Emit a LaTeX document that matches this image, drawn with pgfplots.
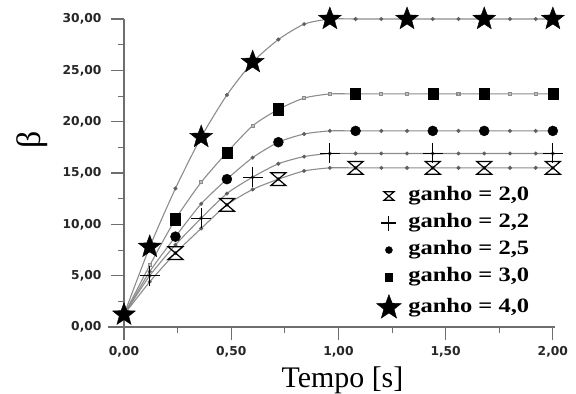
\documentclass[border=0pt]{standalone}
\usepackage{pgfplots}
\pgfplotsset{compat=1.18}
\usepackage{fontspec}
\setmainfont{Liberation Serif}
\newfontfamily\tickfont{DejaVu Sans}
\newfontfamily\legfont[FakeStretch=1.2]{Liberation Serif}
\definecolor{axcol}{RGB}{110,110,110}
\definecolor{lncol}{RGB}{140,140,140}
\definecolor{dotcol}{RGB}{95,95,95}

\pgfdeclareplotmark{hourglass}{%
 \pgfpathmoveto{\pgfqpoint{-\pgfplotmarksize}{0.85\pgfplotmarksize}}%
 \pgfpathlineto{\pgfqpoint{\pgfplotmarksize}{0.85\pgfplotmarksize}}%
 \pgfpathlineto{\pgfqpoint{-\pgfplotmarksize}{-0.85\pgfplotmarksize}}%
 \pgfpathlineto{\pgfqpoint{\pgfplotmarksize}{-0.85\pgfplotmarksize}}%
 \pgfpathclose
 \pgfusepathqstroke}
\pgfdeclareplotmark{fstar}{%
 \pgfpathmoveto{\pgfqpointpolar{90}{\pgfplotmarksize}}%
 \pgfpathlineto{\pgfqpointpolar{126}{0.42\pgfplotmarksize}}%
 \pgfpathlineto{\pgfqpointpolar{162}{\pgfplotmarksize}}%
 \pgfpathlineto{\pgfqpointpolar{198}{0.42\pgfplotmarksize}}%
 \pgfpathlineto{\pgfqpointpolar{234}{\pgfplotmarksize}}%
 \pgfpathlineto{\pgfqpointpolar{270}{0.42\pgfplotmarksize}}%
 \pgfpathlineto{\pgfqpointpolar{306}{\pgfplotmarksize}}%
 \pgfpathlineto{\pgfqpointpolar{342}{0.42\pgfplotmarksize}}%
 \pgfpathlineto{\pgfqpointpolar{18}{\pgfplotmarksize}}%
 \pgfpathlineto{\pgfqpointpolar{54}{0.42\pgfplotmarksize}}%
 \pgfpathclose
 \pgfusepathqfillstroke}

\pgfplotsset{lgmark/.style={legend image code/.code={\draw[mark repeat=2,mark phase=2,##1,mark size=#1] plot coordinates {(0cm,0cm)(0.3cm,0cm)(0.6cm,0cm)};}}}

% curves (t, beta)
\pgfplotstableread{
t b
0.00 1.2
0.12 4.4
0.24 7.2
0.36 9.6
0.48 11.9
0.60 13.4
0.72 14.4
0.84 15.2
0.96 15.5
1.08 15.5
1.20 15.5
1.32 15.5
1.44 15.5
1.56 15.5
1.68 15.5
1.80 15.5
1.92 15.5
2.00 15.5
}\gA
\pgfplotstableread{
t b
0.00 1.2
0.12 5.0
0.24 8.0
0.36 10.6
0.48 13.0
0.60 14.6
0.72 15.9
0.84 16.6
0.96 16.9
1.08 16.9
1.20 16.9
1.32 16.9
1.44 16.9
1.56 16.9
1.68 16.9
1.80 16.9
1.92 16.9
2.00 16.9
}\gB
\pgfplotstableread{
t b
0.00 1.2
0.12 5.4
0.24 8.8
0.36 12.0
0.48 14.4
0.60 16.5
0.72 18.0
0.84 18.8
0.96 19.1
1.08 19.1
1.20 19.1
1.32 19.1
1.44 19.1
1.56 19.1
1.68 19.1
1.80 19.1
1.92 19.1
2.00 19.1
}\gC
\pgfplotstableread{
t b
0.00 1.2
0.12 6.0
0.24 10.5
0.36 14.1
0.48 17.0
0.60 19.6
0.72 21.2
0.84 22.3
0.96 22.7
1.08 22.7
1.20 22.7
1.32 22.7
1.44 22.7
1.56 22.7
1.68 22.7
1.80 22.7
1.92 22.7
2.00 22.7
}\gD
\pgfplotstableread{
t b
0.00 1.2
0.12 7.8
0.24 13.5
0.36 18.5
0.48 22.6
0.60 25.8
0.72 28.0
0.84 29.5
0.96 30.0
1.08 30.0
1.20 30.0
1.32 30.0
1.44 30.0
1.56 30.0
1.68 30.0
1.80 30.0
1.92 30.0
2.00 30.0
}\gE

\begin{document}
\begin{tikzpicture}
\useasboundingbox (-124bp,-67bp) rectangle (452bp,327bp);
\begin{axis}[
  at={(0,0)}, anchor=south west,
  scale only axis, width=431bp, height=308bp,
  xmin=0, xmax=2.01, ymin=0, ymax=30,
  axis lines=left,
  axis line style={-, axcol, line width=1.3bp},
  clip=false,
  xtick={0,0.5,1,1.5,2}, ytick={0,5,10,15,20,25,30},
  minor x tick num=1, minor y tick num=1,
  tick align=outside,
  major tick length=13bp, minor tick length=6bp,
  tick style={axcol, line width=1.1bp},
  every minor tick/.style={axcol, line width=1.0bp},
  /pgf/number format/.cd, fixed, fixed zerofill, precision=2, use comma, assume math mode=true,
  /pgfplots/.cd,
  tick label style={font=\tickfont\bfseries\fontsize{12.3}{13}\selectfont, text=black!85},
  xticklabel style={yshift=-3bp},
  yticklabel style={xshift=-6bp},
  xlabel={Tempo [s]},
  xlabel style={at={(rel axis cs:0.5,0)}, anchor=base, yshift=-60bp, xshift=3bp, font=\fontsize{30}{32}\selectfont},
  ylabel={β},
  ylabel style={at={(rel axis cs:0,0.607)}, anchor=center, yshift=92bp, font=\fontsize{34}{36}\selectfont},
  legend cell align=left,
  legend style={at={(axis cs:1.177,13.7)}, anchor=north west, draw=none, fill=none,
    font=\legfont\bfseries\fontsize{20.5}{22}\selectfont, row sep=8bp, inner sep=0pt,
    nodes={inner sep=0pt, text height=14bp, text depth=5bp},
    /tikz/every odd column/.append style={column sep=7bp}},
]
\draw[axcol, line width=1.3bp] (axis cs:-0.075,0) -- (axis cs:0,0);
% curves with small dots
\addplot[forget plot, lncol, line width=1.1bp, smooth, tension=0.4, mark=*, mark size=1.4bp, mark options={dotcol, fill=dotcol}] table[x=t,y=b] {\gA};
\addplot[forget plot, lncol, line width=1.1bp, smooth, tension=0.4, mark=*, mark size=1.4bp, mark options={dotcol, fill=dotcol}] table[x=t,y=b] {\gB};
\addplot[forget plot, lncol, line width=1.1bp, smooth, tension=0.4, mark=*, mark size=1.4bp, mark options={dotcol, fill=dotcol}] table[x=t,y=b] {\gC};
\addplot[forget plot, lncol, line width=1.1bp, smooth, tension=0.4, mark=square*, mark size=1.5bp, mark options={black!45, fill=black!25}] table[x=t,y=b] {\gD};
\addplot[forget plot, lncol, line width=1.1bp, smooth, tension=0.4, mark=*, mark size=1.4bp, mark options={dotcol, fill=dotcol}] table[x=t,y=b] {\gE};
% big markers
\addplot[only marks, mark=hourglass, mark size=7.5bp, mark options={black, line width=1.2bp, fill=none}, lgmark=5bp]
  coordinates {(0.24,7.2)(0.48,11.9)(0.72,14.4)(1.08,15.5)(1.44,15.5)(1.68,15.5)(2.00,15.5)};
\addlegendentry{ganho = 2,0}
\addplot[only marks, mark=+, mark size=10bp, mark options={black, line width=1.1bp}, lgmark=7.5bp]
  coordinates {(0.12,5.0)(0.36,10.6)(0.60,14.6)(0.96,16.9)(1.44,16.9)(2.00,16.9)};
\addlegendentry{ganho = 2,2}
\addplot[only marks, mark=*, mark size=5bp, mark options={black, fill=black}, lgmark=3.5bp]
  coordinates {(0.24,8.8)(0.48,14.4)(0.72,18.0)(1.08,19.1)(1.44,19.1)(1.68,19.1)(2.00,19.1)};
\addlegendentry{ganho = 2,5}
\addplot[only marks, mark=square*, mark size=5bp, mark options={black, fill=black, yscale=1.15}, lgmark=3.6bp]
  coordinates {(0.24,10.5)(0.48,17.0)(0.72,21.2)(1.08,22.7)(1.44,22.7)(1.68,22.7)(2.00,22.7)};
\addlegendentry{ganho = 3,0}
\addplot[only marks, mark=fstar, mark size=12bp, mark options={black, fill=black}, lgmark=13bp]
  coordinates {(0,1.2)(0.12,7.8)(0.36,18.5)(0.60,25.8)(0.96,30.0)(1.32,30.0)(1.68,30.0)(2.00,30.0)};
\addlegendentry{ganho = 4,0}
\end{axis}
\end{tikzpicture}
\end{document}
